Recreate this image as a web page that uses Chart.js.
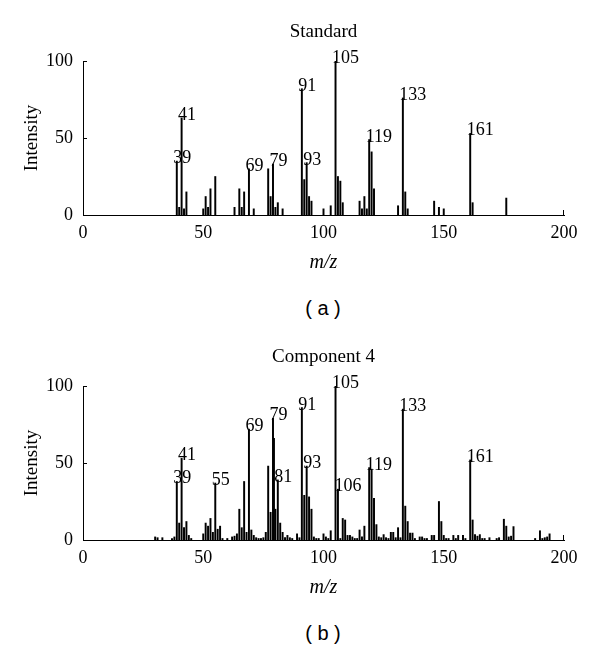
<!DOCTYPE html>
<html><head><meta charset="utf-8">
<script src="https://cdn.jsdelivr.net/npm/chart.js@4"></script>
<style>
html,body{margin:0;padding:0;background:#fff;}
#wrap{position:relative;width:600px;height:649px;overflow:hidden;background:#fff;}
.cv{position:absolute;left:0;width:600px;height:290px;}
.cap{position:absolute;left:0;width:646px;text-align:center;font-family:"Liberation Sans",Arial,sans-serif;font-size:20px;color:#000;line-height:24px;}
</style></head>
<body><div id="wrap">
<div class="cv" style="top:0"><canvas id="c1" width="600" height="290"></canvas></div>
<div class="cap" style="top:296px">( a )</div>
<div class="cv" style="top:325px"><canvas id="c2" width="600" height="290"></canvas></div>
<div class="cap" style="top:621px">( b )</div>
</div>
<script>
// ---- Data: (a) Standard ----
const mzStd  = [39,40,41,42,43,50,51,52,53,55,63,65,66,67,69,71,77,78,79,80,81,83,91,92,93,94,95,100,103,105,106,107,108,115,116,117,118,119,120,121,131,133,134,135,146,148,150,161,162,176];
const intStd = [35,5,63,4,15,4,12,5,17,25,5,17,5,15,30,4,30,12,33,5,8,4,82,23,34,12,9,4,6,100,25,22,8,9,4,12,4,49,41,17,6,76,15,4,9,5,4,53,8,11];
const peaksStd = [39,41,69,79,91,93,105,119,133,161];

// ---- Data: (b) Component 4 ----
const mzC4  = [30,31,33,37,38,39,40,41,42,43,44,45,
  50,51,52,53,54,55,56,57,58,60,
  62,63,64,65,66,67,68,69,70,71,72,73,74,75,76,
  77,78,79,79.4,80,81,82,83,84,85,86,87,89,90,
  91,92,93,94,95,96,97,98,100,101,102,103,
  105,106,107,108,109,110,111,112,113,114,115,116,117,
  119,120,121,122,123,124,125,126,127,128,129,130,131,132,
  133,134,135,136,137,138,140,141,142,143,145,146,
  148,149,150,151,152,154,155,156,158,159,
  161,162,163,164,165,166,167,169,172,173,
  175,176,177,178,179,188,190,191,192,193,194];
const intC4 = [2,1.5,1.5,1,2,38,11,53,8,12,3,1,
  4,11,9,14,5,37,7,9,1,1,
  2,2.5,4,20,8,38,5,72,6.5,3,1.5,1,1,1.5,5,
  48,18,79,66,20,39,11,5,1.5,3,1.5,1,4,1.5,
  86,29,48,28,20,2,1,1,4,2,1,6,
  100,33,1,14,13,3,3,2,1,1,6.5,2,9,
  47,46,27,10,2,1.5,3.5,1.5,1,5,5,1.5,8,1.5,
  85,22,12,4.5,4.5,1,2,2,1,1,3,3,
  25,12,3,1,1,3,1,3,3,1,
  52,13,3.5,2.5,3.5,1,1,1.5,1,1.5,
  13.5,9,2,2.5,8.7,1,6,1,1.5,2,4];
const peaksC4 = [39,41,55,69,79,81,91,93,105,106,119,133,161];

const xTicks = [0,50,100,150,200];
const yTicks = [0,50,100];

const SERIF = '"Liberation Serif","Times New Roman",serif';
Chart.defaults.color = '#000';

const peakLabelPlugin = {
  id: 'peakLabels',
  afterDatasetsDraw(chart, args, opts) {
    const ctx = chart.ctx;
    const meta = chart.getDatasetMeta(0);
    const mz = opts.mz;
    ctx.save();
    ctx.fillStyle = '#000';
    ctx.font = '18px ' + SERIF;
    ctx.textAlign = 'left';
    ctx.textBaseline = 'alphabetic';
    opts.peaks.forEach(p => {
      const i = mz.indexOf(p);
      if (i < 0) return;
      const el = meta.data[i];
      ctx.fillText(String(p), el.x - 3.5, el.y + 2);
    });
    ctx.restore();
  },
  afterDraw(chart) {
    const ctx = chart.ctx;
    const xs = chart.scales.x, ys = chart.scales.y;
    const a = chart.chartArea;
    ctx.save();
    ctx.strokeStyle = '#000';
    ctx.lineWidth = 1;
    ctx.beginPath();
    yTicks.slice(1).forEach(v => {
      const py = Math.round(ys.getPixelForValue(v)) + 0.5;
      ctx.moveTo(a.left, py); ctx.lineTo(a.left + 4, py);
    });
    const px = Math.round(xs.getPixelForValue(xTicks[xTicks.length - 1])) - 0.5;
    ctx.moveTo(px, a.bottom); ctx.lineTo(px, a.bottom - 5);
    ctx.stroke();
    ctx.restore();
  }
};

function makeChart(id, title, mz, inten, peaks) {
  return new Chart(document.getElementById(id), {
    type: 'bar',
    data: { datasets: [{
      data: mz.map((m, i) => ({ x: m, y: inten[i] })),
      backgroundColor: '#000', borderWidth: 0, barThickness: 1.3
    }]},
    options: {
      responsive: false, animation: false,
      layout: { padding: { left: 0, right: 36, top: 0, bottom: 0 } },
      plugins: {
        legend: { display: false }, tooltip: { enabled: false },
        title: { display: true, text: title, fullSize: false, color: '#000',
          font: { family: SERIF, size: 19, weight: 'normal' }, padding: { top: 20.6, bottom: 17.6 } },
        peakLabels: { mz: mz, peaks: peaks }
      },
      scales: {
        x: { type: 'linear', min: xTicks[0], max: xTicks[xTicks.length - 1], offset: false,
          afterBuildTicks(s) { s.ticks = xTicks.map(v => ({ value: v })); },
          ticks: { color: '#000', font: { family: SERIF, size: 18 }, padding: 7, maxRotation: 0, autoSkip: false },
          grid: { display: false, drawTicks: false },
          border: { display: true, color: '#000', width: 1 },
          title: { display: true, text: 'm/z', color: '#000',
            font: { family: SERIF, size: 20, style: 'italic' }, padding: { top: 0, bottom: 15 } },
          afterFit(s) { s.height = 75; } },
        y: { min: yTicks[0], max: yTicks[yTicks.length - 1],
          afterBuildTicks(s) { s.ticks = yTicks.map(v => ({ value: v })); },
          ticks: { color: '#000', font: { family: SERIF, size: 18 }, padding: 10 },
          grid: { display: false, drawTicks: false },
          border: { display: true, color: '#000', width: 1 },
          title: { display: true, text: 'Intensity', color: '#000',
            font: { family: SERIF, size: 19 }, padding: { top: 20.6, bottom: 0 } },
          afterFit(s) { s.width = 83; } }
      }
    },
    plugins: [peakLabelPlugin]
  });
}

makeChart('c1', 'Standard', mzStd, intStd, peaksStd);
makeChart('c2', 'Component 4', mzC4, intC4, peaksC4);
</script>
</body></html>
